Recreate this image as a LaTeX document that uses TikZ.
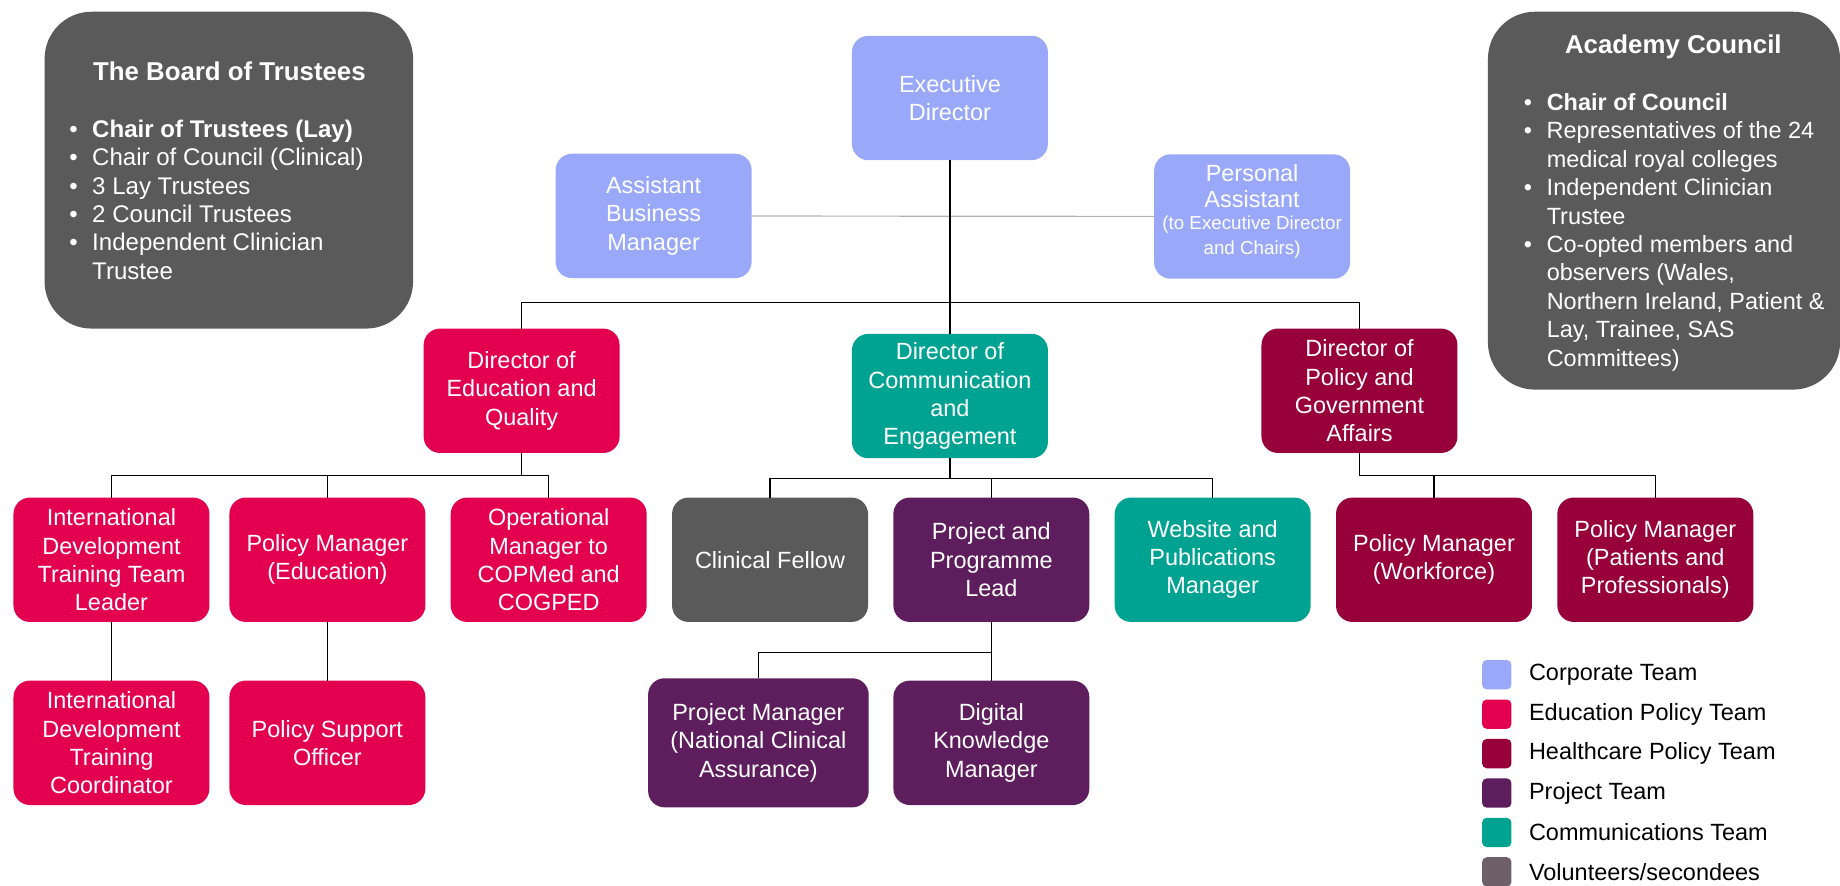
\documentclass[tikz,border=0pt]{standalone}
\usepackage{fontspec}
\setmainfont{Liberation Sans}
\usetikzlibrary{positioning}

\definecolor{corporate}{HTML}{9AA8FA}
\definecolor{education}{HTML}{E2004F}
\definecolor{healthcare}{HTML}{970038}
\definecolor{project}{HTML}{5E1E5E}
\definecolor{comms}{HTML}{00A392}
\definecolor{volunteer}{HTML}{6F5F68}
\definecolor{panelgrey}{HTML}{5A5A5A}

\newcommand{\bulletmark}{\makebox[19.5pt][l]{\textbullet}}
\newcommand{\bulletgap}{\makebox[19.5pt]{}}

\begin{document}
\begin{tikzpicture}[
    x = 1pt, y = -1pt, % chart pixels, y runs down
    node distance = 21.6pt, % gap between boxes
    line width = 1.2pt % connector style
    ]

    \tikzset{role/.style = {
        rectangle, rounded corners = 14pt, outer sep = 0pt,
        minimum width = 167pt, minimum height = 106pt,
        inner sep = 2pt, text = white, align = center,
        font = \fontsize{20}{24}\selectfont
    }}
    \tikzset{panel/.style = {rectangle, rounded corners = 40pt, fill = panelgrey}}
    \tikzset{heading/.style = {text = white, font = \bfseries\fontsize{22}{26}\selectfont}}
    \tikzset{members/.style = {
        text = white, align = left, inner sep = 0pt, anchor = north west,
        font = \fontsize{20.5}{24.2}\selectfont
    }}
    \tikzset{swatch/.style = {rectangle, rounded corners = 4pt, minimum size = 25pt,
        inner sep = 0pt, outer sep = 0pt}}
    \tikzset{key/.style = {inner sep = 0pt, outer sep = 0pt, font = \fontsize{20}{24}\selectfont}}

    \useasboundingbox (0,0) rectangle (1568,755);

    % side panels
    \node[panel, minimum width = 314pt, minimum height = 270pt] (board) at (195,145) {};
    \node[heading] (board title) at (195.5,61) {The Board of Trustees};
    \node[members] (board list) at (58.5,101.5) {%
        \bulletmark\textbf{Chair of Trustees (Lay)}\\
        \bulletmark Chair of Council (Clinical)\\
        \bulletmark 3 Lay Trustees\\
        \bulletmark 2 Council Trustees\\
        \bulletmark Independent Clinician\\
        \bulletgap Trustee};

    \node[panel, minimum width = 300pt, minimum height = 322pt] (council) at (1418,171) {};
    \node[heading] (council title) at (1426,40) {Academy Council};
    \node[members, font = \fontsize{20}{24.2}\selectfont] (council list) at (1298,79) {%
        \bulletmark\textbf{Chair of Council}\\
        \bulletmark Representatives of the 24\\
        \bulletgap medical royal colleges\\
        \bulletmark Independent Clinician\\
        \bulletgap Trustee\\
        \bulletmark Co-opted members and\\
        \bulletgap observers (Wales,\\
        \bulletgap Northern Ireland, Patient \&\\
        \bulletgap Lay, Trainee, SAS\\
        \bulletgap Committees)};

    % corporate
    \node[role, fill = corporate] (ed) at (809.5,83.5) {Executive\\Director};
    \node[role, fill = corporate] (abm) at (557,184) {Assistant\\Business\\Manager};
    \node[role, fill = corporate] (pa) at (1067,184.5) {};
    \node[text = white, align = center, inner sep = 0pt, font = \fontsize{20}{22.5}\selectfont]
        (pa text) at (1067,180) {Personal\\Assistant\\[-4pt]%
        {\fontsize{16}{18.5}\selectfont (to Executive Director}\\[-1.5pt]%
        {\fontsize{16}{18.5}\selectfont and Chairs)}};

    % directors
    \node[role, fill = education] (deq) at (444.5,333) {Director of\\Education and\\Quality};
    \node[role, fill = comms] (dce) at (809.5,337.5) {Director of\\Communication\\and\\Engagement};
    \node[role, fill = healthcare] (dpga) at (1158.5,333) {Director of\\Policy and\\Government\\Affairs};

    % teams
    \node[role, fill = education] (idttl) at (95,477) {International\\Development\\Training Team\\Leader};
    \node[role, fill = education] (pme) [right=17pt of idttl] {Policy Manager\\(Education)};
    \node[role, fill = education] (omc) [right=of pme] {Operational\\Manager to\\COPMed and\\COGPED};
    \node[role, fill = panelgrey] (cf) [right=of omc] {Clinical Fellow};
    \node[role, fill = project] (ppl) [right=of cf] {Project and\\Programme\\Lead};
    \node[role, fill = comms] (wpm) [right=of ppl] {Website and\\Publications\\Manager};
    \node[role, fill = healthcare] (pmw) [right=of wpm] {Policy Manager\\(Workforce)};
    \node[role, fill = healthcare] (pmp) [right=of pmw] {Policy Manager\\(Patients and\\Professionals)};

    \node[role, fill = education] (idtc) [below=50pt of idttl] {International\\Development\\Training\\Coordinator};
    \node[role, fill = education] (pso) [below=50pt of pme] {Policy Support\\Officer};
    \node[role, fill = project] (dkm) [below=50pt of ppl] {Digital\\Knowledge\\Manager};
    \node[role, fill = project, minimum width = 188pt, minimum height = 110pt] (pmnca) [left=21pt of dkm]
        {Project Manager\\(National Clinical\\Assurance)};

    % connectors
    \coordinate (director bus) at (809.5,258);
    \coordinate (education bus) at (444.5,405);
    \coordinate (comms bus) at (809.5,408);
    \coordinate (policy bus) at (1158.5,405);
    \path (ppl.south) ++(0,26) coordinate (project bus);

    \draw[gray!60, line width = 1pt] (abm) -- (pa);
    \draw (ed) -- (dce);
    \draw (deq.north) |- (director bus) -| (dpga.north);

    \draw (deq) -- (education bus);
    \draw (idttl.north) |- (education bus) -| (omc.north);
    \draw (pme.north) -- (pme.north |- education bus);

    \draw (dce) -- (comms bus);
    \draw (cf.north) |- (comms bus) -| (wpm.north);
    \draw (ppl.north) -- (ppl.north |- comms bus);

    \draw (dpga) -- (policy bus) -| (pmp.north);
    \draw (pmw.north) -- (pmw.north |- policy bus);

    \draw (idttl) -- (idtc);
    \draw (pme) -- (pso);
    \draw (ppl) -- (dkm);
    \draw (pmnca.north) |- (project bus);

    % legend
    \node[swatch, fill = corporate] (key corporate) at (1275.5,575) {};
    \node[swatch, fill = education] (key education) [below=8.6pt of key corporate] {};
    \node[swatch, fill = healthcare] (key healthcare) [below=8.6pt of key education] {};
    \node[swatch, fill = project] (key project) [below=8.6pt of key healthcare] {};
    \node[swatch, fill = comms] (key comms) [below=8.6pt of key project] {};
    \node[swatch, fill = volunteer] (key volunteer) [below=8.6pt of key comms] {};

    \node[key] (corporate label) [right=15pt of key corporate] {Corporate Team};
    \node[key] (education label) [right=15pt of key education] {Education Policy Team};
    \node[key] (healthcare label) [right=15pt of key healthcare] {Healthcare Policy Team};
    \node[key] (project label) [right=15pt of key project] {Project Team};
    \node[key] (comms label) [right=15pt of key comms] {Communications Team};
    \node[key] (volunteer label) [right=15pt of key volunteer] {Volunteers/secondees};
\end{tikzpicture}
\end{document}
